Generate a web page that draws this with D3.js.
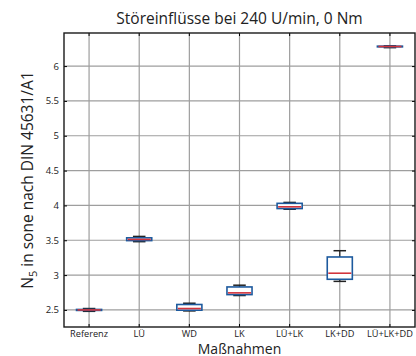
<!DOCTYPE html>
<html>
<head>
<meta charset="utf-8">
<script src="https://cdn.jsdelivr.net/npm/d3@7"></script>
<style>
  body { margin: 0; background: #fff; }
  svg { display: block; font-family: "Open Sans", sans-serif; }
</style>
</head>
<body>
<div id="svg-container"></div>
<script>
// data
const categories = ["Referenz", "LÜ", "WD", "LK", "LÜ+LK", "LK+DD", "LÜ+LK+DD"];
const whiskerLow = [2.48, 3.48, 2.486, 2.707, 3.945, 2.91, 6.265];
const q1 = [2.493, 3.495, 2.496, 2.72, 3.955, 2.94, 6.276];
const median = [2.5, 3.512, 2.52, 2.745, 3.98, 3.027, 6.281];
const q3 = [2.507, 3.535, 2.578, 2.83, 4.03, 3.26, 6.286];
const whiskerHigh = [2.52, 3.555, 2.596, 2.855, 4.043, 3.35, 6.292];
const yTicks = [2.5, 3, 3.5, 4, 4.5, 5, 5.5, 6];

const width = 416, height = 356;
const margin = { top: 33, right: 1, bottom: 29, left: 64 };

const svg = d3.select("#svg-container").append("svg")
  .attr("width", width).attr("height", height);

const x = d3.scaleBand().domain(categories)
  .range([margin.left, width - margin.right]).padding(0);
const y = d3.scaleLinear().domain([2.255, 6.475])
  .range([height - margin.bottom, margin.top]);

const boxes = categories.map((c, i) => ({
  c, lo: whiskerLow[i], q1: q1[i], med: median[i], q3: q3[i], hi: whiskerHigh[i]
}));

// grid
const grid = svg.append("g").attr("stroke", "#9e9e9e").attr("stroke-width", 1.2);
grid.selectAll(".gy").data(yTicks).join("line")
  .attr("x1", margin.left).attr("x2", width - margin.right)
  .attr("y1", d => y(d)).attr("y2", d => y(d));
grid.selectAll(".gx").data(categories).join("line")
  .attr("x1", d => x(d) + x.bandwidth() / 2).attr("x2", d => x(d) + x.bandwidth() / 2)
  .attr("y1", margin.top).attr("y2", height - margin.bottom);

// axes (ticks inward)
const yAxisL = d3.axisLeft(y).tickValues(yTicks).tickSizeInner(-3).tickSizeOuter(0).tickPadding(5)
  .tickFormat(d3.format("~g"));
svg.append("g").attr("transform", `translate(${margin.left},0)`).call(yAxisL)
  .call(g => g.select(".domain").remove())
  .call(g => g.selectAll("text").attr("font-size", 9.5).attr("fill", "#222").attr("font-family", "Open Sans"));
svg.append("g").attr("transform", `translate(${width - margin.right},0)`)
  .call(d3.axisRight(y).tickValues(yTicks).tickSizeInner(-3).tickSizeOuter(0).tickFormat(""))
  .call(g => g.select(".domain").remove());
svg.append("g").attr("transform", `translate(0,${height - margin.bottom})`)
  .call(d3.axisBottom(x).tickSizeInner(-3).tickSizeOuter(0).tickPadding(3))
  .call(g => g.select(".domain").remove())
  .call(g => g.selectAll("text").attr("font-size", 9.2).attr("fill", "#222").attr("font-family", "Open Sans"));
svg.append("g").attr("transform", `translate(0,${margin.top})`)
  .call(d3.axisTop(x).tickSizeInner(-3).tickSizeOuter(0).tickFormat(""))
  .call(g => g.select(".domain").remove());

// frame
svg.append("rect")
  .attr("x", margin.left).attr("y", margin.top)
  .attr("width", width - margin.right - margin.left)
  .attr("height", height - margin.bottom - margin.top)
  .attr("fill", "none").attr("stroke", "#1a1a1a").attr("stroke-width", 1.4);

// boxplots
const bw = x.bandwidth() * 0.5;
const cw = x.bandwidth() * 0.25;
const bx = svg.append("g").selectAll("g").data(boxes).join("g")
  .attr("transform", d => `translate(${x(d.c) + x.bandwidth() / 2},0)`);

bx.append("line").attr("stroke", "#222").attr("stroke-width", 1.2)
  .attr("y1", d => y(d.lo)).attr("y2", d => y(d.hi));
bx.append("line").attr("stroke", "#222").attr("stroke-width", 1.5)
  .attr("x1", -cw / 2).attr("x2", cw / 2)
  .attr("y1", d => y(d.hi)).attr("y2", d => y(d.hi));
bx.append("line").attr("stroke", "#222").attr("stroke-width", 1.5)
  .attr("x1", -cw / 2).attr("x2", cw / 2)
  .attr("y1", d => y(d.lo)).attr("y2", d => y(d.lo));
bx.append("rect")
  .attr("x", -bw / 2).attr("width", bw)
  .attr("y", d => y(d.q3)).attr("height", d => Math.max(0.5, y(d.q1) - y(d.q3)))
  .attr("fill", "#fff").attr("stroke", "#1d5a9e").attr("stroke-width", 1.6);
bx.append("line").attr("stroke", "#d2343c").attr("stroke-width", 1.6)
  .attr("x1", -bw / 2 + 1).attr("x2", bw / 2 - 1)
  .attr("y1", d => y(d.med)).attr("y2", d => y(d.med));

// title and labels
svg.append("text")
  .attr("x", (margin.left + width - margin.right) / 2).attr("y", 24)
  .attr("text-anchor", "middle").attr("font-size", 15.5).attr("fill", "#222")
  .text("Störeinflüsse bei 240 U/min, 0 Nm");

svg.append("text")
  .attr("x", (margin.left + width - margin.right) / 2).attr("y", 353.5)
  .attr("text-anchor", "middle").attr("font-size", 14).attr("fill", "#222")
  .text("Maßnahmen");

const yl = svg.append("text")
  .attr("transform", `translate(33,${(margin.top + height - margin.bottom) / 2}) rotate(-90)`)
  .attr("text-anchor", "middle").attr("font-size", 15.5).attr("fill", "#222");
yl.append("tspan").text("N");
yl.append("tspan").attr("font-size", 11).attr("dy", 4).text("5");
yl.append("tspan").attr("dy", -4).text(" in sone nach DIN 45631/A1");
</script>
</body>
</html>
